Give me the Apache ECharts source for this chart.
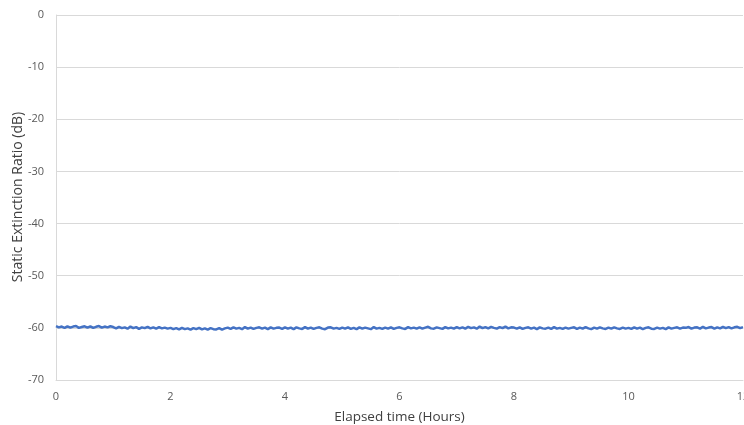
<!DOCTYPE html>
<html>
<head>
<meta charset="utf-8">
<script src="https://cdn.jsdelivr.net/npm/echarts@6/dist/echarts.min.js"></script>
<style>
  html, body { margin: 0; padding: 0; background: #fff; }
  #chart { width: 744px; height: 425px; }
</style>
</head>
<body>
<div id="chart"></div>
<script>
// sampling step of the logged ratio (hours)
var timeStepHours = 0.05;
var xTicks = [0, 2, 4, 6, 8, 10, 12];
var yTicks = [-70, -60, -50, -40, -30, -20, -10, 0];
var yTitle = 'Static Extinction Ratio (dB)';
// static extinction ratio (dB), one row per hour
var extinctionDb = [
  -59.65, -59.9, -59.75, -60.0, -59.7, -59.95, -59.75, -59.65, -60.0, -59.85, -59.7, -59.95, -59.7, -60.0, -59.8, -59.65, -59.95, -59.75, -59.9, -59.7,
  -59.85, -60.1, -59.8, -60.05, -59.9, -60.15, -59.75, -60.05, -59.85, -60.2, -59.9, -60.05, -59.8, -60.1, -59.9, -60.15, -59.85, -60.1, -59.95, -60.15,
  -60.0, -60.25, -60.05, -60.3, -60.0, -60.25, -60.1, -60.35, -60.05, -60.25, -60.0, -60.3, -60.1, -60.35, -60.05, -60.25, -60.3, -60.05, -60.35, -60.1,
  -59.95, -60.2, -59.9, -60.15, -60.0, -60.25, -59.85, -60.15, -59.95, -60.2, -60.0, -59.9, -60.15, -59.95, -60.25, -59.9, -60.15, -60.0, -59.95, -60.2,
  -59.9, -60.15, -59.95, -60.25, -59.9, -60.1, -60.2, -59.85, -60.15, -59.95, -60.2, -60.0, -59.9, -60.15, -60.25, -59.95, -59.9, -60.15, -60.0, -60.2,
  -59.95, -60.15, -59.9, -60.2, -60.0, -60.25, -59.9, -60.15, -59.95, -60.1, -60.25, -59.85, -60.15, -60.0, -60.2, -59.95, -60.15, -59.9, -60.2, -60.0,
  -59.9, -60.1, -60.2, -59.85, -60.1, -59.95, -60.15, -59.9, -60.15, -59.95, -59.8, -60.1, -60.15, -59.9, -60.05, -60.2, -59.85, -60.1, -59.95, -60.15,
  -59.85, -60.1, -59.9, -60.15, -59.8, -60.05, -59.9, -60.15, -59.75, -60.05, -59.85, -60.1, -59.8, -60.0, -60.15, -59.85, -60.05, -59.75, -60.1, -59.9,
  -59.95, -60.15, -59.9, -60.2, -60.0, -59.9, -60.15, -59.95, -60.25, -59.9, -60.1, -60.15, -59.95, -60.2, -59.85, -60.15, -60.0, -60.2, -59.95, -60.15,
  -60.0, -59.9, -60.2, -59.95, -60.15, -59.85, -60.1, -60.25, -59.95, -60.15, -59.9, -60.1, -60.2, -59.95, -60.15, -59.9, -60.1, -60.2, -59.95, -60.15,
  -60.0, -60.2, -59.9, -60.15, -59.95, -60.25, -60.0, -59.9, -60.15, -60.2, -59.95, -60.15, -60.0, -60.25, -59.9, -60.15, -60.0, -59.9, -60.15, -59.95,
  -60.0, -59.85, -60.15, -59.95, -59.9, -60.15, -59.8, -60.1, -59.95, -59.85, -60.15, -59.9, -60.1, -59.8, -60.05, -59.85, -60.1, -59.9, -59.8, -60.05,
  -59.85
];

var seriesData = extinctionDb.map(function (v, i) {
  return [+(i * timeStepHours).toFixed(2), v];
});

var labelFont = '"Open Sans", "Liberation Sans", sans-serif';

var myChart = echarts.init(document.getElementById('chart'));
myChart.setOption({
  animation: false,
  grid: { left: 56, right: 1, top: 15, bottom: 45, containLabel: false, outerBoundsMode: 'none' },
  // y-axis title placed by hand, the axis name kept drifting left
  graphic: [{
    type: 'text',
    x: 18,
    y: 197,
    rotation: Math.PI / 2,
    style: {
      text: yTitle,
      fill: '#404040',
      font: '14px ' + labelFont,
      align: 'center',
      verticalAlign: 'middle'
    }
  }],
  xAxis: {
    type: 'value',
    min: xTicks[0],
    max: xTicks[xTicks.length - 1],
    interval: 2,
    name: 'Elapsed time (Hours)',
    nameLocation: 'middle',
    nameGap: 30,
    nameTextStyle: { color: '#404040', fontSize: 13.5, fontFamily: labelFont },
    axisLine: { show: true, onZero: false, lineStyle: { color: '#d9d9d9', width: 1 } },
    axisTick: { show: false },
    splitLine: { show: false },
    axisLabel: { color: '#595959', fontSize: 11, fontFamily: labelFont, margin: 11 }
  },
  yAxis: {
    type: 'value',
    min: yTicks[0],
    max: yTicks[yTicks.length - 1],
    interval: 10,
    axisLine: { show: true, lineStyle: { color: '#d9d9d9', width: 1 } },
    axisTick: { show: false },
    splitLine: { show: true, lineStyle: { color: '#d9d9d9', width: 1 } },
    axisLabel: { color: '#595959', fontSize: 11, fontFamily: labelFont, margin: 12 }
  },
  series: [{
    type: 'line',
    data: seriesData,
    showSymbol: false,
    symbol: 'none',
    lineStyle: { color: '#4472c4', width: 2.5 },
    silent: true
  }]
});
</script>
</body>
</html>
